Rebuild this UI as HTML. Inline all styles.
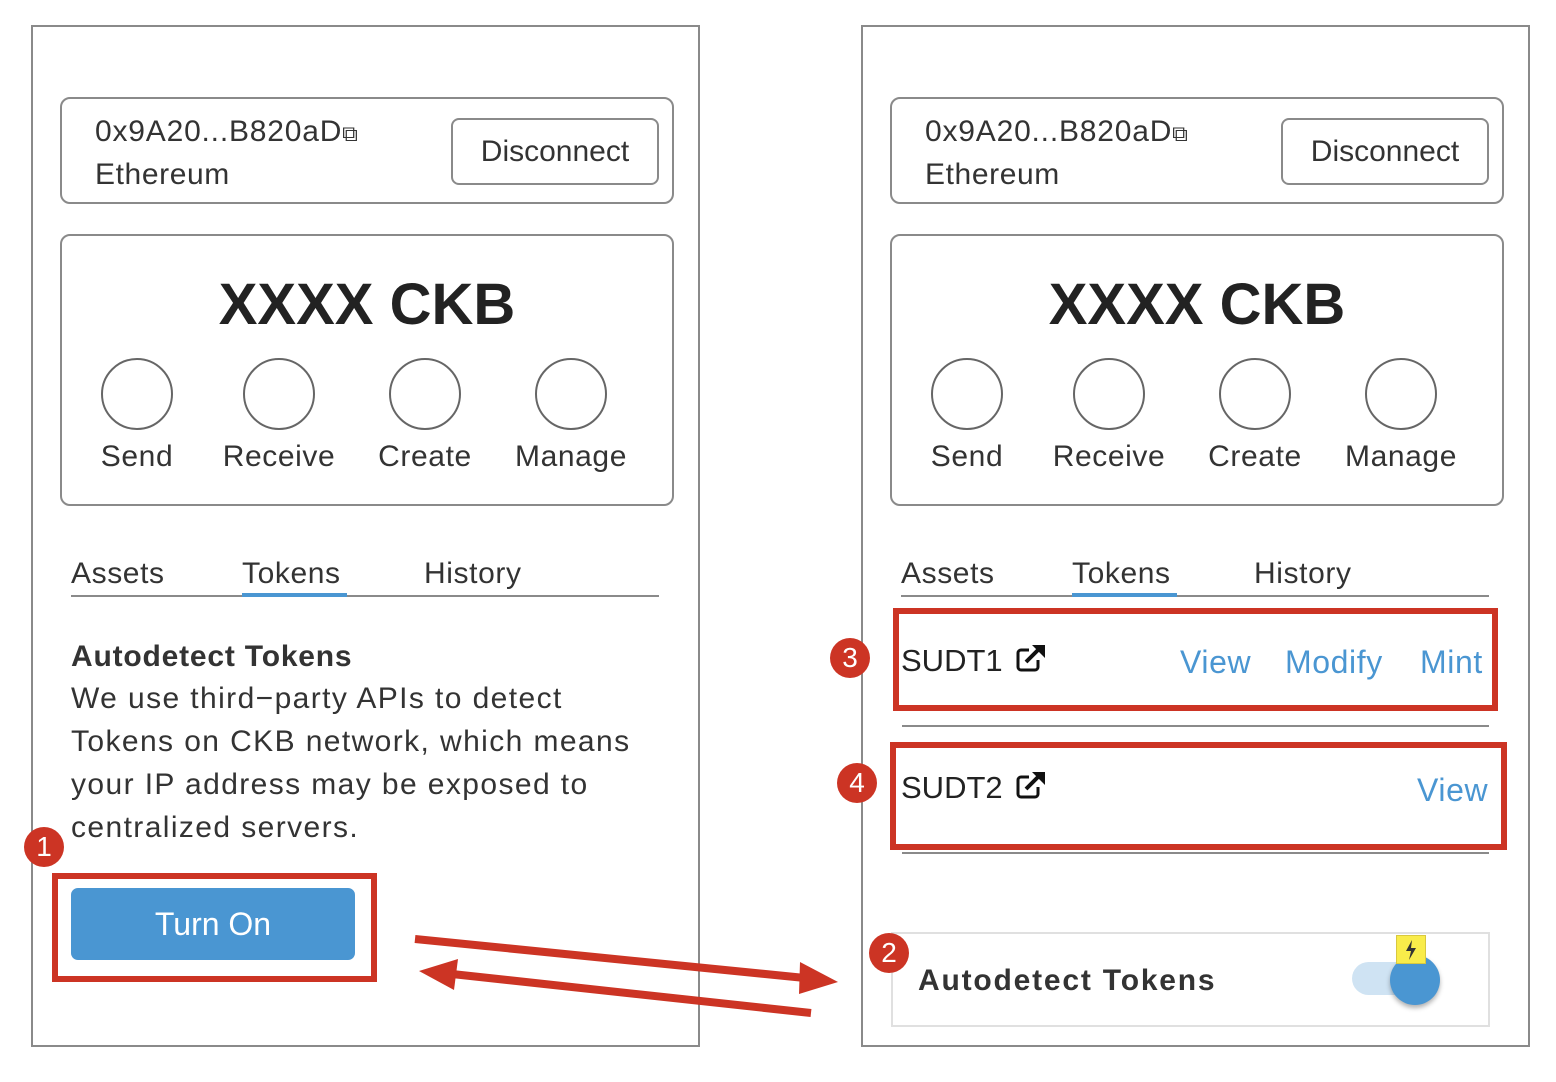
<!DOCTYPE html>
<html><head><meta charset="utf-8"><style>
body{margin:0;width:1556px;height:1082px;background:#fff;position:relative;overflow:hidden;font-family:"Liberation Sans",sans-serif;color:#333}
.a{position:absolute}
.panel{border:2px solid #8a8a8a;box-sizing:border-box}
.card{border:2px solid #8a8a8a;border-radius:10px;box-sizing:border-box}
.t{position:absolute;white-space:nowrap;line-height:1;letter-spacing:0.6px}
.circ{position:absolute;width:72px;height:72px;border:2px solid #666;border-radius:50%;box-sizing:border-box}
.blue{color:#4a96d2}
.red{border:6px solid #cc3424;box-sizing:border-box}
.badge{position:absolute;width:40px;height:40px;border-radius:50%;background:#cc3424;color:#fff;font-size:28px;text-align:center;line-height:40px}
.cp{font-size:22px;letter-spacing:0}
</style></head><body>
<!-- LEFT PANEL -->
<div class="a panel" style="left:31px;top:25px;width:669px;height:1022px"></div>
<div class="a card" style="left:60px;top:97px;width:614px;height:107px"></div>
<div class="t" style="left:95px;top:117px;font-size:30px;letter-spacing:0.8px">0x9A20...B820aD<span class="cp">⧉</span></div>
<div class="t" style="left:95px;top:160px;font-size:30px">Ethereum</div>
<div class="a" style="left:451px;top:118px;width:208px;height:67px;border:2px solid #8a8a8a;border-radius:8px;box-sizing:border-box;font-size:30px;text-align:center;line-height:63px">Disconnect</div>
<div class="a card" style="left:60px;top:234px;width:614px;height:272px"></div>
<div class="t" style="left:60px;width:614px;text-align:center;top:276px;font-size:58px;font-weight:bold;letter-spacing:0;color:#222">XXXX CKB</div>
<div class="circ" style="left:101px;top:358px"></div>
<div class="circ" style="left:243px;top:358px"></div>
<div class="circ" style="left:389px;top:358px"></div>
<div class="circ" style="left:535px;top:358px"></div>
<div class="t" style="left:77px;width:120px;text-align:center;top:442px;font-size:30px">Send</div>
<div class="t" style="left:209px;width:140px;text-align:center;top:442px;font-size:30px">Receive</div>
<div class="t" style="left:355px;width:140px;text-align:center;top:442px;font-size:30px">Create</div>
<div class="t" style="left:501px;width:140px;text-align:center;top:442px;font-size:30px">Manage</div>
<div class="t" style="left:71px;top:559px;font-size:30px">Assets</div>
<div class="t" style="left:242px;top:559px;font-size:30px">Tokens</div>
<div class="t" style="left:424px;top:559px;font-size:30px">History</div>
<div class="a" style="left:71px;top:595px;width:588px;height:2px;background:#8a8a8a"></div>
<div class="a" style="left:242px;top:593px;width:105px;height:4px;background:#4a96d2"></div>
<div class="t" style="left:71px;top:642px;font-size:30px;font-weight:bold;letter-spacing:0.8px">Autodetect Tokens</div>
<div class="a" style="left:71px;top:677px;font-size:30px;line-height:43px;width:640px;letter-spacing:1.4px;white-space:nowrap">We use third−party APIs to detect<br>Tokens on CKB network, which means<br>your IP address may be exposed to<br>centralized servers.</div>
<div class="a red" style="left:52px;top:873px;width:325px;height:109px"></div>
<div class="a" style="left:71px;top:888px;width:284px;height:72px;background:#4a96d2;border-radius:7px;color:#fff;font-size:32px;text-align:center;line-height:72px">Turn On</div>
<div class="badge" style="left:24px;top:827px">1</div>

<!-- RIGHT PANEL -->
<div class="a panel" style="left:861px;top:25px;width:669px;height:1022px"></div>
<div class="a card" style="left:890px;top:97px;width:614px;height:107px"></div>
<div class="t" style="left:925px;top:117px;font-size:30px;letter-spacing:0.8px">0x9A20...B820aD<span class="cp">⧉</span></div>
<div class="t" style="left:925px;top:160px;font-size:30px">Ethereum</div>
<div class="a" style="left:1281px;top:118px;width:208px;height:67px;border:2px solid #8a8a8a;border-radius:8px;box-sizing:border-box;font-size:30px;text-align:center;line-height:63px">Disconnect</div>
<div class="a card" style="left:890px;top:234px;width:614px;height:272px"></div>
<div class="t" style="left:890px;width:614px;text-align:center;top:276px;font-size:58px;font-weight:bold;letter-spacing:0;color:#222">XXXX CKB</div>
<div class="circ" style="left:931px;top:358px"></div>
<div class="circ" style="left:1073px;top:358px"></div>
<div class="circ" style="left:1219px;top:358px"></div>
<div class="circ" style="left:1365px;top:358px"></div>
<div class="t" style="left:907px;width:120px;text-align:center;top:442px;font-size:30px">Send</div>
<div class="t" style="left:1039px;width:140px;text-align:center;top:442px;font-size:30px">Receive</div>
<div class="t" style="left:1185px;width:140px;text-align:center;top:442px;font-size:30px">Create</div>
<div class="t" style="left:1331px;width:140px;text-align:center;top:442px;font-size:30px">Manage</div>
<div class="t" style="left:901px;top:559px;font-size:30px">Assets</div>
<div class="t" style="left:1072px;top:559px;font-size:30px">Tokens</div>
<div class="t" style="left:1254px;top:559px;font-size:30px">History</div>
<div class="a" style="left:901px;top:595px;width:588px;height:2px;background:#8a8a8a"></div>
<div class="a" style="left:1072px;top:593px;width:105px;height:4px;background:#4a96d2"></div>

<div class="a red" style="left:893px;top:608px;width:605px;height:103px"></div>
<div class="t" style="left:901px;top:645px;font-size:31px;letter-spacing:0;color:#222">SUDT1</div>
<svg class="a" style="left:1016px;top:644px" width="30" height="28" viewBox="0 0 30 28"><path d="M13 6H5a3 3 0 0 0-3 3v14a3 3 0 0 0 3 3h14a3 3 0 0 0 3-3v-7" fill="none" stroke="#111" stroke-width="3"/><path d="M10 18L24 4" stroke="#111" stroke-width="4"/><path d="M16 1h13v13z" fill="#111"/></svg>
<div class="t blue" style="left:1180px;top:646px;font-size:32px">View</div>
<div class="t blue" style="left:1285px;top:646px;font-size:32px">Modify</div>
<div class="t blue" style="left:1420px;top:646px;font-size:32px">Mint</div>
<div class="a" style="left:902px;top:725px;width:587px;height:2px;background:#8a8a8a"></div>
<div class="badge" style="left:830px;top:638px">3</div>

<div class="a red" style="left:890px;top:742px;width:617px;height:108px"></div>
<div class="t" style="left:901px;top:772px;font-size:31px;letter-spacing:0;color:#222">SUDT2</div>
<svg class="a" style="left:1016px;top:771px" width="30" height="28" viewBox="0 0 30 28"><path d="M13 6H5a3 3 0 0 0-3 3v14a3 3 0 0 0 3 3h14a3 3 0 0 0 3-3v-7" fill="none" stroke="#111" stroke-width="3"/><path d="M10 18L24 4" stroke="#111" stroke-width="4"/><path d="M16 1h13v13z" fill="#111"/></svg>
<div class="t blue" style="left:1417px;top:774px;font-size:32px">View</div>
<div class="a" style="left:902px;top:852px;width:587px;height:2px;background:#8a8a8a"></div>
<div class="badge" style="left:837px;top:763px">4</div>

<div class="a" style="left:891px;top:932px;width:599px;height:95px;border:2px solid #e0e0e0;box-sizing:border-box"></div>
<div class="t" style="left:918px;top:966px;font-size:30px;font-weight:bold;letter-spacing:1.8px">Autodetect Tokens</div>
<div class="a" style="left:1352px;top:962px;width:70px;height:33px;border-radius:17px;background:#cfe3f3"></div>
<div class="a" style="left:1390px;top:955px;width:50px;height:50px;border-radius:50%;background:#4a96d2;box-shadow:0 3px 5px rgba(0,0,0,.3)"></div>
<div class="a" style="left:1396px;top:935px;width:30px;height:29px;background:#f9ec4a;border:1px solid #d8c840;box-sizing:border-box"><svg width="28" height="27" viewBox="0 0 28 27"><path d="M15 4L9 15h5l-2 9 7-12h-5z" fill="#333"/></svg></div>
<div class="badge" style="left:869px;top:933px">2</div>

<svg class="a" style="left:0;top:0" width="1556" height="1082">
<line x1="415" y1="939" x2="805" y2="978" stroke="#cc3424" stroke-width="8"/>
<polygon points="800,962 838,982 799,994" fill="#cc3424"/>
<line x1="811" y1="1013" x2="452" y2="974" stroke="#cc3424" stroke-width="8"/>
<polygon points="458,959 419,971 454,990" fill="#cc3424"/>
</svg>
</body></html>
